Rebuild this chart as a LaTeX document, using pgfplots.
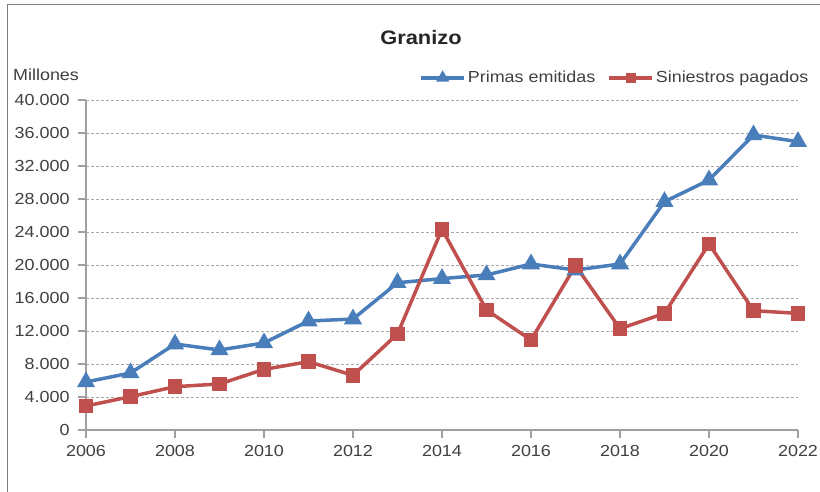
\documentclass[border=0pt]{standalone}
\usepackage{pgfplots}
\pgfplotsset{compat=1.18}
\usepackage{fontspec}
\setmainfont{Liberation Sans}[FakeStretch=1.12]
\definecolor{cblue}{RGB}{74,126,187}
\definecolor{cred}{RGB}{192,80,77}
\definecolor{ctext}{RGB}{64,64,64}
\definecolor{caxis}{RGB}{160,160,160}
\definecolor{cgrid}{RGB}{170,170,170}
\definecolor{cframe}{RGB}{128,128,128}
\begin{document}
\begin{tikzpicture}
\useasboundingbox (0,0) rectangle (820bp,492bp);
\draw[cframe, line width=1.5bp] (7.5bp,0) -- (7.5bp,487.5bp) -- (820bp,487.5bp);
\node[font=\fontsize{19.5bp}{23bp}\selectfont\bfseries, text=black!85, anchor=center] at (421bp,454bp) {Granizo};
\node[font=\fontsize{16bp}{19bp}\selectfont, text=ctext, anchor=west, inner sep=0] at (13bp,417bp) {Millones};
\begin{axis}[
  at={(86bp,62bp)}, anchor=south west,
  scale only axis, width=712bp, height=330bp,
  xmin=2006, xmax=2022, ymin=0, ymax=40000,
  xtick={2006,2008,...,2022},
  ytick={0,4000,...,40000},
  axis x line*=bottom, axis y line*=left,
  axis line style={caxis, line width=1.2bp, -},
  tick style={caxis, line width=1.2bp},
  major tick length=8bp, tick align=outside,
  ymajorgrids, grid style={cgrid, dash pattern=on 3bp off 2bp, line width=0.8bp},
  ticklabel style={font=\fontsize{16bp}{19bp}\selectfont, text=ctext},
  /pgf/number format/assume math mode=true,
  yticklabel style={xshift=-5bp, /pgf/number format/.cd, 1000 sep={.}},
  xticklabel style={yshift=-4bp, /pgf/number format/.cd, 1000 sep={}},
  scaled y ticks=false,
  legend style={at={(0.468,1.067)}, anchor=west, draw=none, fill=none, inner sep=0pt,
    font=\fontsize{16bp}{19bp}\selectfont, text=ctext, legend columns=2,
    /tikz/every even column/.append style={column sep=10bp}},
  legend cell align=left,
  legend image code/.code={\draw[mark repeat=2,mark phase=2,#1,mark options={solid,scale=0.6}] plot coordinates {(0bp,0bp) (21.5bp,0bp) (43bp,0bp)};},
]
\addplot[cblue, line width=3.5bp, mark=triangle*, mark size=7bp, mark options={solid}] coordinates {
(2006,5820) (2007,6910) (2008,10420) (2009,9700) (2010,10550) (2011,13210) (2012,13450) (2013,17850) (2014,18350) (2015,18790) (2016,20120) (2017,19390) (2018,20120) (2019,27670) (2020,30300) (2021,35760) (2022,34950)};
\addlegendentry{Primas emitidas}
\addplot[cred, line width=3.5bp, mark=square*, mark size=5.5bp, mark options={solid}] coordinates {
(2006,2910) (2007,4040) (2008,5250) (2009,5580) (2010,7350) (2011,8280) (2012,6630) (2013,11640) (2014,24330) (2015,14550) (2016,10910) (2017,19920) (2018,12280) (2019,14140) (2020,22550) (2021,14460) (2022,14140)};
\addlegendentry{Siniestros pagados}
\end{axis}
\end{tikzpicture}
\end{document}
